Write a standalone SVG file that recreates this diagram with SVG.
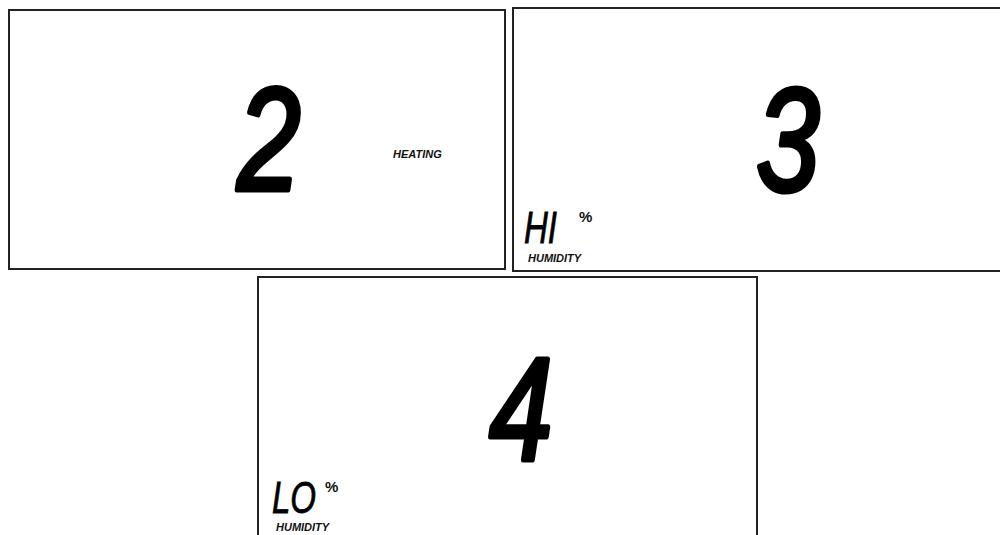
<svg xmlns="http://www.w3.org/2000/svg" width="1000" height="535" viewBox="0 0 1000 535">
<style>
.panel{fill:#ffffff;stroke:#222;stroke-width:2}
.digit{font-family:"Liberation Sans",Arial,sans-serif;font-style:italic;font-size:146px;fill:#000;stroke:#000;stroke-width:5;stroke-linejoin:round;text-anchor:middle}
.seg{font-family:"Liberation Sans",Arial,sans-serif;font-style:italic;font-size:44px;fill:#000;stroke:#000;stroke-width:0.8}
.lbl{font-family:"Liberation Sans",Arial,sans-serif;font-style:italic;font-weight:bold;font-size:11px;fill:#111}
.pct{font-family:"Liberation Sans",Arial,sans-serif;font-weight:bold;font-size:15px;fill:#111}
</style>
<rect width="1000" height="535" fill="#ffffff"/>
<g id="panel-heating">
<rect class="panel" x="9" y="10" width="496" height="259"/>
<text class="digit" transform="translate(269,190) scale(0.78,1)">2</text>
<text class="lbl" x="393" y="158">HEATING</text>
</g>
<g id="panel-hi-humidity">
<rect class="panel" x="513" y="8" width="500" height="263"/>
<text class="digit" transform="translate(788,191) scale(0.78,1)">3</text>
<text class="seg" transform="translate(524,243) scale(0.75,1)">HI</text>
<text class="pct" x="579" y="222">%</text>
<text class="lbl" x="528" y="262">HUMIDITY</text>
</g>
<g id="panel-lo-humidity">
<rect class="panel" x="258" y="277" width="499" height="275"/>
<text class="digit" transform="translate(521,460) scale(0.78,1)">4</text>
<text class="seg" transform="translate(272,513) scale(0.75,1)">LO</text>
<text class="pct" x="325" y="492">%</text>
<text class="lbl" x="276" y="531">HUMIDITY</text>
</g>
</svg>
